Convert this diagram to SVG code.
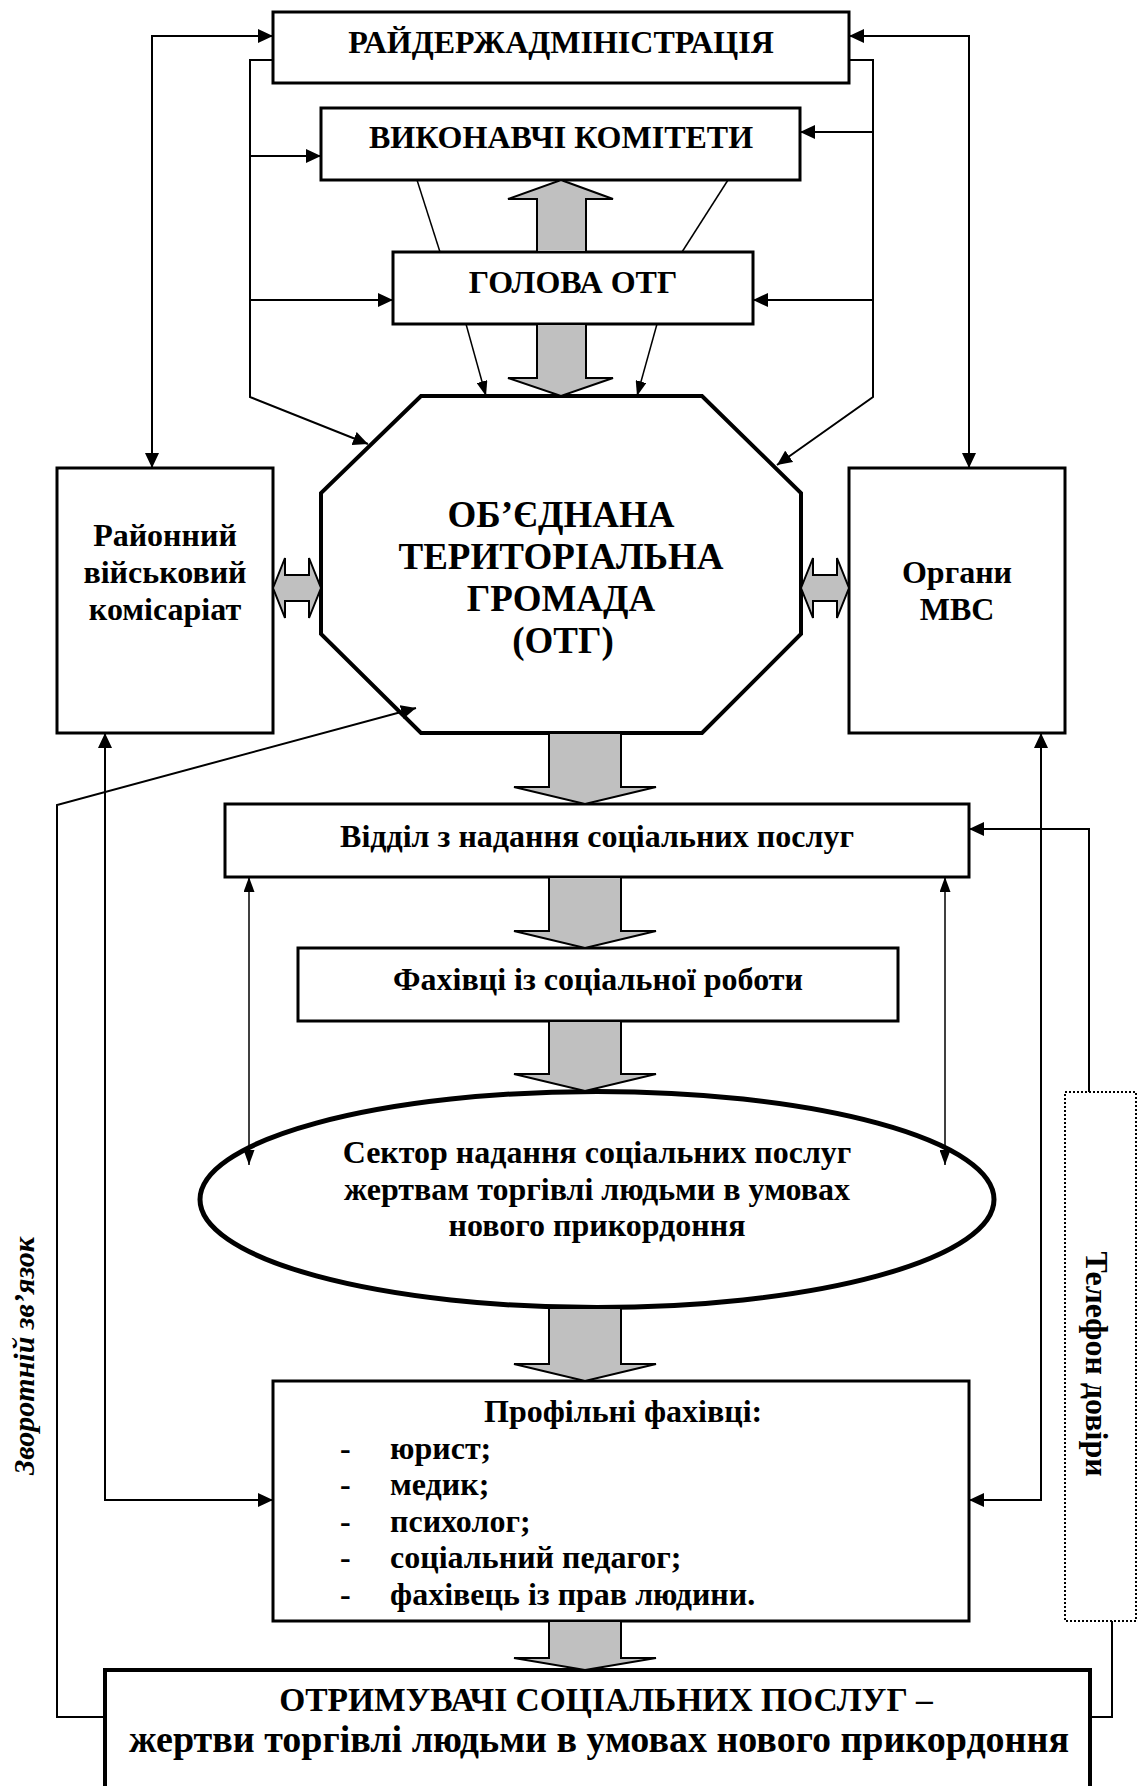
<svg xmlns="http://www.w3.org/2000/svg" width="1138" height="1786" viewBox="0 0 1138 1786">
<style>
.box{fill:#fff;stroke:#000;stroke-width:3}
.t{font-family:"Liberation Serif","Times New Roman",serif;font-weight:bold;font-size:32px;fill:#000}
.c{text-anchor:middle}
.ln{fill:none;stroke:#000;stroke-width:2}
.thin{fill:none;stroke:#000;stroke-width:1.5}
.ga{fill:#c0c0c0;stroke:#000;stroke-width:2;stroke-linejoin:miter}
</style>
<defs>
<marker id="ah" markerUnits="userSpaceOnUse" markerWidth="15" markerHeight="14" refX="15" refY="7" orient="auto-start-reverse"><path d="M0,0 L15,7 L0,14 z" fill="#000"/></marker>
<marker id="as" markerUnits="userSpaceOnUse" markerWidth="15" markerHeight="11" refX="15" refY="5.5" orient="auto-start-reverse"><path d="M0,0 L15,5.5 L0,11 z" fill="#000"/></marker>
</defs>

<g id="n-raida">
<rect class="box" x="273" y="12" width="576" height="71"/>
<text class="t c" x="561" y="53">РАЙДЕРЖАДМІНІСТРАЦІЯ</text>
</g>
<g id="n-vykon">
<rect class="box" x="321" y="108" width="479" height="72"/>
<text class="t c" x="561" y="148">ВИКОНАВЧІ КОМІТЕТИ</text>
</g>
<g id="n-holova">
<rect class="box" x="393" y="252" width="360" height="72"/>
<text class="t c" x="573" y="293">ГОЛОВА ОТГ</text>
</g>
<g id="n-otg">
<polygon points="421,396 702,396 801,493 801,634 702,733 421,733 321,634 321,493" fill="#fff" stroke="#000" stroke-width="4"/>
<text class="t c" style="font-size:37px" x="561" y="527">ОБ’ЄДНАНА</text>
<text class="t c" style="font-size:37px" x="561" y="569">ТЕРИТОРІАЛЬНА</text>
<text class="t c" style="font-size:37px" x="561" y="611">ГРОМАДА</text>
<text class="t c" style="font-size:37px" x="563" y="653">(ОТГ)</text>
</g>
<g id="n-viysk">
<rect class="box" x="57" y="468" width="216" height="265"/>
<text class="t c" x="165" y="546">Районний</text>
<text class="t c" x="165" y="583">військовий</text>
<text class="t c" x="165" y="620">комісаріат</text>
</g>
<g id="n-mvs">
<rect class="box" x="849" y="468" width="216" height="265"/>
<text class="t c" x="957" y="583">Органи</text>
<text class="t c" x="957" y="620">МВС</text>
</g>
<g id="n-viddil">
<rect class="box" x="225" y="804" width="744" height="73"/>
<text class="t c" x="597" y="847">Відділ з надання соціальних послуг</text>
</g>
<g id="n-fakh">
<rect class="box" x="298" y="948" width="600" height="73"/>
<text class="t c" x="598" y="990">Фахівці із соціальної роботи</text>
</g>
<g id="n-sector">
<ellipse cx="597" cy="1199.5" rx="397" ry="108" fill="#fff" stroke="#000" stroke-width="5"/>
<text class="t c" x="597" y="1163">Сектор надання соціальних послуг</text>
<text class="t c" x="597" y="1200">жертвам торгівлі людьми в умовах</text>
<text class="t c" x="597" y="1236">нового прикордоння</text>
</g>
<g id="n-profil">
<rect class="box" x="273" y="1381" width="696" height="240"/>
<text class="t" x="484" y="1422">Профільні фахівці:</text>
<text class="t" x="340" y="1459">-</text><text class="t" x="390" y="1459">юрист;</text>
<text class="t" x="340" y="1495">-</text><text class="t" x="390" y="1495">медик;</text>
<text class="t" x="340" y="1532">-</text><text class="t" x="390" y="1532">психолог;</text>
<text class="t" x="340" y="1568">-</text><text class="t" x="390" y="1568">соціальний педагог;</text>
<text class="t" x="340" y="1605">-</text><text class="t" x="390" y="1605">фахівець із прав людини.</text>
</g>
<g id="n-otrym">
<rect x="105" y="1670" width="985" height="140" fill="#fff" stroke="#000" stroke-width="4"/>
<text class="t c" style="font-size:33.5px" x="606" y="1711">ОТРИМУВАЧІ СОЦІАЛЬНИХ ПОСЛУГ –</text>
<text class="t c" style="font-size:38px" x="599" y="1752">жертви торгівлі людьми в умовах нового прикордоння</text>
</g>
<g id="n-telefon">
<rect x="1065" y="1092" width="71" height="529" fill="#fff" stroke="#000" stroke-width="2" stroke-dasharray="2,2"/>
<text class="t c" transform="translate(1086,1364) rotate(90)" x="0" y="0">Телефон довіри</text>
</g>
<g id="n-feedback">
<text class="t c" style="font-style:italic;font-size:30px" transform="translate(34,1356) rotate(-90)" x="0" y="0">Зворотній зв’язок</text>
</g>

<g id="connectors">
<path class="ln" d="M273,36 H152 V468" marker-start="url(#ah)" marker-end="url(#ah)"/>
<path class="ln" d="M849,36 H969 V468" marker-start="url(#ah)" marker-end="url(#ah)"/>
<path class="ln" d="M273,60 H250 V397 L368,444" marker-end="url(#ah)"/>
<path class="ln" d="M849,60 H873 V397 L777,465" marker-end="url(#ah)"/>
<path class="ln" d="M250,156 H321" marker-end="url(#ah)"/>
<path class="ln" d="M250,300 H393" marker-end="url(#ah)"/>
<path class="ln" d="M873,132 H800" marker-end="url(#ah)"/>
<path class="ln" d="M873,300 H753" marker-end="url(#ah)"/>
<path class="thin" d="M417,180 L440,252"/>
<path class="thin" d="M728,180 L682,252"/>
<path class="thin" d="M466,324 L486,396" marker-end="url(#as)"/>
<path class="thin" d="M657,324 L637,396" marker-end="url(#as)"/>
<path class="ln" d="M105,1717 H57 V805 L416,708" marker-end="url(#ah)"/>
<path class="ln" d="M273,1500 H105 V733" marker-start="url(#ah)" marker-end="url(#ah)"/>
<path class="ln" d="M969,1500 H1041 V733" marker-start="url(#ah)" marker-end="url(#ah)"/>
<path class="thin" d="M249,877 V1165" marker-start="url(#as)" marker-end="url(#as)"/>
<path class="thin" d="M945,877 V1165" marker-start="url(#as)" marker-end="url(#as)"/>
<path class="ln" d="M1089,1092 V829 H969" marker-end="url(#ah)"/>
<path class="ln" d="M1090,1717 H1112 V1621"/>
<path class="ga" d="M561,180 L613,199 L586,199 L586,252 L537,252 L537,199 L508,199 Z"/>
<path class="ga" d="M537,324 L586,324 L586,378 L613,378 L561,396 L508,378 L537,378 Z"/>
<path class="ga" d="M273,588 L285,558 L285,575 L309,575 L309,558 L321,588 L309,618 L309,601 L285,601 L285,618 Z"/>
<path class="ga" d="M801,588 L813,558 L813,575 L837,575 L837,558 L849,588 L837,618 L837,601 L813,601 L813,618 Z"/>
<path class="ga" d="M549,733 L621,733 L621,787 L656,787 L585,804 L514,787 L549,787 Z"/>
<path class="ga" d="M549,877 L621,877 L621,931 L656,931 L585,948 L514,931 L549,931 Z"/>
<path class="ga" d="M549,1021 L621,1021 L621,1074 L656,1074 L585,1091 L514,1074 L549,1074 Z"/>
<path class="ga" d="M549,1308 L621,1308 L621,1364 L656,1364 L585,1381 L514,1364 L549,1364 Z"/>
<path class="ga" d="M549,1621 L621,1621 L621,1658 L656,1658 L585,1670 L514,1658 L549,1658 Z"/>
</g>
</svg>
